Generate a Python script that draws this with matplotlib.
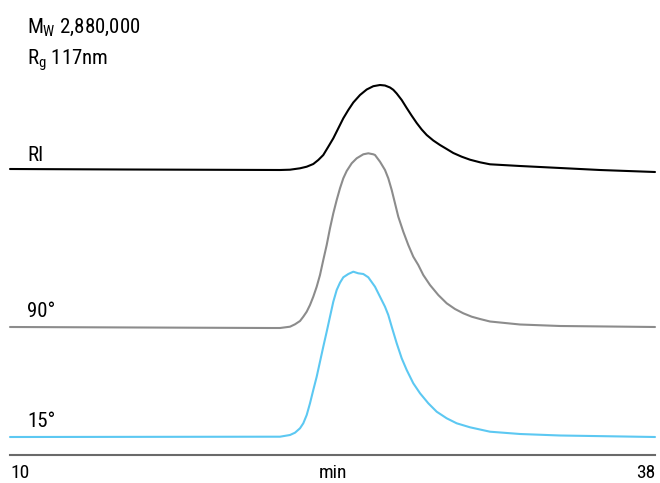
import matplotlib
matplotlib.use("Agg")
import matplotlib.pyplot as plt
from matplotlib import font_manager

available = {f.name for f in font_manager.fontManager.ttflist}
font_choice = next((f for f in ['Liberation Sans Narrow', 'Roboto Condensed', 'Roboto',
                                'Liberation Sans'] if f in available), 'DejaVu Sans')
plt.rcParams['font.family'] = [font_choice, 'DejaVu Sans']
plt.rcParams['mathtext.fontset'] = 'custom'
plt.rcParams['mathtext.rm'] = font_choice
plt.rcParams['mathtext.it'] = font_choice

# Data: retention time (min) and detector response (height above each baseline)
ri_time = [10.0, 15.0, 21.72, 22.155, 22.589, 22.88, 23.166, 23.383, 23.60, 23.818, 24.035,
           24.252, 24.469, 24.686, 24.903, 25.194, 25.485, 25.771, 26.062, 26.279, 26.496,
           26.639, 26.787, 27.004, 27.221, 27.438, 27.655, 27.872, 28.089, 28.376, 28.666,
           28.957, 29.244, 29.608, 29.969, 30.403, 30.837, 32.14, 33.88, 35.61, 38.0]
ri_resp = [1.0, 0.5, 0.0, 0.3, 1.7, 3.3, 6.0, 10.0, 15.0, 23.3, 31.7,
           41.7, 51.7, 60.0, 67.5, 75.0, 80.5, 83.8, 85.0, 84.5, 82.5,
           80.2, 76.5, 70.0, 62.0, 54.3, 47.0, 40.5, 35.0, 29.5, 25.0,
           21.0, 17.0, 13.3, 10.3, 7.7, 5.7, 4.0, 2.0, 0.0, -2.0]

ls90_time = [10.0, 21.287, 21.721, 22.155, 22.372, 22.589, 22.732, 22.88, 23.023, 23.166,
             23.314, 23.457, 23.60, 23.748, 23.891, 24.035, 24.182, 24.325, 24.469, 24.616,
             24.833, 25.05, 25.337, 25.554, 25.771, 25.845, 26.062, 26.279, 26.422, 26.57,
             26.713, 26.856, 27.073, 27.29, 27.507, 27.724, 27.941, 28.232, 28.592, 28.957,
             29.317, 29.678, 30.043, 30.403, 30.837, 32.14, 33.88, 38.0]
ls90_resp = [0.0, -1.0, -1.0, 0.3, 2.7, 6.0, 10.3, 15.3, 22.0, 30.3,
             40.3, 52.0, 67.0, 82.0, 98.7, 113.7, 127.0, 138.7, 148.7, 156.0,
             163.7, 168.7, 172.7, 173.7, 172.7, 172.0, 165.3, 157.0, 148.7, 137.0,
             123.7, 110.3, 95.3, 82.0, 70.3, 62.0, 52.0, 42.0, 32.0, 23.7,
             18.0, 13.7, 10.3, 8.0, 5.5, 2.5, 1.0, 0.0]

ls15_time = [10.0, 21.287, 21.721, 22.155, 22.372, 22.589, 22.732, 22.88, 23.023, 23.166,
             23.314, 23.457, 23.60, 23.748, 23.891, 24.035, 24.182, 24.325, 24.469, 24.686,
             24.903, 25.119, 25.337, 25.554, 25.845, 26.062, 26.279, 26.422, 26.57, 26.787,
             27.004, 27.221, 27.507, 27.80, 28.159, 28.523, 28.957, 29.391, 29.969, 30.837,
             32.14, 33.88, 38.0]
ls15_resp = [0.0, 0.3, 0.3, 2.0, 4.3, 8.7, 13.7, 22.0, 33.7, 47.0,
             60.3, 75.3, 90.3, 105.3, 120.3, 135.3, 147.0, 154.3, 159.7, 163.0,
             165.3, 163.7, 163.0, 159.7, 150.3, 140.3, 130.3, 122.0, 110.3, 93.7,
             78.7, 67.0, 53.7, 43.7, 33.7, 25.3, 18.7, 13.7, 9.7, 5.3,
             3.0, 1.5, 0.0]

trace_labels = ["RI", "90°", "15°"]
x_ticks = [10, 38]
x_label = "min"
mw_text = r"M$_{\mathrm{W}}$ 2,880,000"
rg_text = r"R$_{\mathrm{g}}$ 117nm"

W, H = 660, 483
fig = plt.figure(figsize=(W / 100, H / 100), dpi=100)
ax = fig.add_axes([0, 0, 1, 1])
px_per_min = (655 - 10) / (38 - 10)
ax.set_xlim(10 - 10 / px_per_min, 10 + (W - 10) / px_per_min)
ax.set_ylim(0, H)
ax.axis('off')

def ypos(pix):
    return H - pix

ri_off, l90_off, l15_off = ypos(170), ypos(327), ypos(437)
kw = dict(lw=1.5, solid_joinstyle='round', solid_capstyle='round')
ax.plot(ri_time, [ri_off + v for v in ri_resp], color='black', **kw)
ax.plot(ls90_time, [l90_off + v for v in ls90_resp], color='#8c8c8c', **kw)
ax.plot(ls15_time, [l15_off + v for v in ls15_resp], color='#5cc8f2', **kw)

# bottom axis line
ax.plot(x_ticks, [ypos(455), ypos(455)], color='#6a6a6a', lw=1.5)

fs = 14
ax.text(x_ticks[0], ypos(478), str(x_ticks[0]), ha='left', va='baseline', fontsize=fs)
ax.text(x_ticks[1], ypos(478), str(x_ticks[1]), ha='right', va='baseline', fontsize=fs)
ax.text(10 + (333 - 10) / px_per_min, ypos(478), x_label, ha='center', va='baseline', fontsize=fs)

lfs = 15
fig.text(27 / W, 1 - 33 / H, mw_text, ha='left', va='baseline', fontsize=lfs)
fig.text(27 / W, 1 - 65 / H, rg_text, ha='left', va='baseline', fontsize=lfs)

fig.text(27 / W, 1 - 161 / H, trace_labels[0], ha='left', va='baseline', fontsize=lfs)
fig.text(27 / W, 1 - 317 / H, trace_labels[1], ha='left', va='baseline', fontsize=lfs)
fig.text(27 / W, 1 - 427 / H, trace_labels[2], ha='left', va='baseline', fontsize=lfs)

fig.savefig("out.png", dpi=100)
